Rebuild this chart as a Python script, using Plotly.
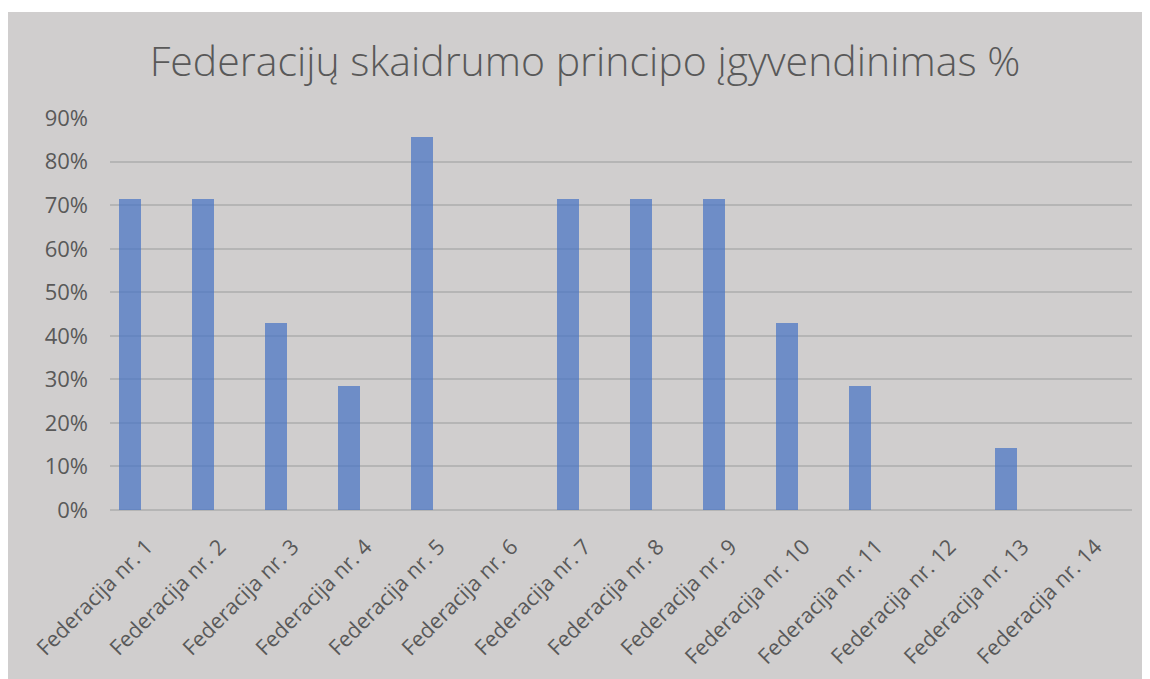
import plotly.graph_objects as go

categories = [f"Federacija nr. {i}" for i in range(1, 15)]
values = [0.714, 0.714, 0.429, 0.286, 0.857, 0.0, 0.714, 0.714, 0.714, 0.429, 0.286, 0.0, 0.143, 0.0]
y_ticks = [0, 0.1, 0.2, 0.3, 0.4, 0.5, 0.6, 0.7, 0.8, 0.9]
title_text = "Federacijų skaidrumo principo įgyvendinimas %"

OFF = 8  # page body margin
W, H = 1150 - OFF, 679 - OFF
ml, mr, mt, mb = 110 - OFF, W - (1132 - OFF), 118 - OFF, H - (510 - OFF)
pw, ph = W - ml - mr, H - mt - mb

BG = "#d0cece"
TXT = "#595959"
GRID = "#b5b5b5"
FONT = "Open Sans"

fig = go.Figure()
fig.add_trace(go.Bar(
    x=categories, y=values,
    width=0.307, offset=-0.377,
    marker=dict(color="rgba(68,114,196,0.7)", line=dict(width=0)),
    hoverinfo="x+y",
))

fig.add_shape(type="rect", xref="paper", yref="paper", layer="below",
              x0=(0 - ml) / pw, x1=(W + 20 - ml) / pw,
              y0=(mt + ph - H - 20) / ph, y1=(mt + ph - (12 - OFF)) / ph,
              fillcolor=BG, line=dict(width=0))

fig.update_layout(
    width=W, height=H,
    margin=dict(l=ml, r=mr, t=mt, b=mb, autoexpand=False),
    paper_bgcolor="white", plot_bgcolor=BG,
    showlegend=False,
    bargap=0,
    title=dict(text=title_text, x=(585 - OFF) / W, xref="container", xanchor="center",
               y=1 - (62 - OFF) / H, yref="container", yanchor="middle",
               font=dict(family=FONT, size=41, color=TXT, weight=300)),
    font=dict(family=FONT, color=TXT),
)
fig.update_xaxes(
    tickangle=-45, tickfont=dict(family=FONT, size=21.5, color=TXT),
    showgrid=False, showline=False, ticks="", ticklabelstandoff=19,
    automargin=False,
)
fig.update_yaxes(
    range=[0, 0.9005], tickvals=y_ticks, tickformat=".0%",
    tickfont=dict(family=FONT, size=22, color=TXT),
    showgrid=True, gridcolor=GRID, gridwidth=1.5,
    zeroline=True, zerolinecolor=GRID, zerolinewidth=1.5,
    showline=False, ticks="", ticklabelstandoff=21, automargin=False,
)

fig.write_html("out.html")
